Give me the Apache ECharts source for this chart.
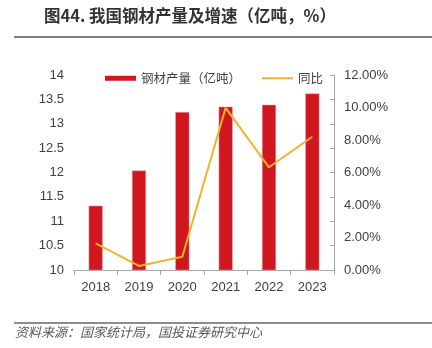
<!DOCTYPE html>
<html>
<head>
<meta charset="utf-8">
<script src="https://cdn.jsdelivr.net/npm/echarts@6/dist/echarts.min.js"></script>
<style>
  html, body { margin: 0; padding: 0; background: #fff; }
  #chart { width: 432px; height: 348px; }
</style>
</head>
<body>
<div id="chart"></div>
<script>
// Steel products output (100 million tonnes) and year-on-year growth (%)
const years = ['2018', '2019', '2020', '2021', '2022', '2023'];
const output = [11.32, 12.04, 13.24, 13.35, 13.39, 13.62];
const growth = [1.64, 0.25, 0.82, 9.98, 6.32, 8.2];
const seriesNames = ['钢材产量（亿吨）', '同比'];
const titleText = '图44. 我国钢材产量及增速（亿吨，%）';
const sourceText = '资料来源：国家统计局，国投证券研究中心';

const cjk = '"Noto Sans CJK SC", "Noto Sans", sans-serif';
const latin = 'Arial, "Liberation Sans", sans-serif';
const labelColor = '#404040';
const axisGray = '#a6a6a6';
const barColor = '#d0161e';
const lineColor = '#efb42c';

const chart = echarts.init(document.getElementById('chart'), null, { renderer: 'canvas' });

chart.setOption({
  animation: false,
  backgroundColor: '#fff',
  textStyle: { fontFamily: cjk },
  grid: { left: 74, right: 98, top: 75, bottom: 78 },
  legend: {
    left: 105,
    top: 72,
    padding: 0,
    itemWidth: 31,
    itemHeight: 5,
    itemGap: 21,
    textStyle: { color: labelColor, fontSize: 12.5, fontFamily: cjk },
    data: [
      { name: seriesNames[0], icon: 'rect', itemStyle: { color: barColor, borderWidth: 0 } },
      { name: seriesNames[1], icon: 'path://M0,0 L31,0 L31,2 L0,2 Z', itemStyle: { color: lineColor, borderWidth: 0 } }
    ]
  },
  xAxis: {
    type: 'category',
    data: years,
    axisLine: { lineStyle: { color: axisGray } },
    axisTick: { show: true, length: 5, lineStyle: { color: axisGray } },
    axisLabel: { color: labelColor, fontSize: 13, margin: 11, fontFamily: latin }
  },
  yAxis: [
    {
      type: 'value',
      min: 10, max: 14, interval: 0.5,
      position: 'left',
      axisLine: { show: false },
      axisTick: { show: false },
      splitLine: { show: false },
      axisLabel: { color: labelColor, fontSize: 13, margin: 10, fontFamily: latin }
    },
    {
      // right-hand growth axis: line and tick marks
      type: 'value',
      min: 0, max: 12, interval: 1.5,
      position: 'right',
      axisLine: { show: true, lineStyle: { color: axisGray } },
      axisTick: { show: true, inside: true, length: 4, lineStyle: { color: axisGray } },
      splitLine: { show: false },
      axisLabel: { show: false }
    },
    {
      // right-hand growth axis: percentage labels
      type: 'value',
      min: 0, max: 12, interval: 2,
      position: 'right',
      axisLine: { show: false },
      axisTick: { show: false },
      splitLine: { show: false },
      axisLabel: {
        color: labelColor, fontSize: 13, margin: 10,
        fontFamily: latin,
        formatter: v => v.toFixed(2) + '%'
      }
    }
  ],
  series: [
    {
      name: seriesNames[0],
      type: 'bar',
      data: output,
      yAxisIndex: 0,
      barWidth: 14,
      itemStyle: { color: barColor, borderColor: '#eba1a4', borderWidth: 0.5 }
    },
    {
      name: seriesNames[1],
      type: 'line',
      data: growth,
      yAxisIndex: 2,
      symbol: 'none',
      lineStyle: { color: lineColor, width: 2 },
      itemStyle: { color: lineColor }
    }
  ],
  graphic: [
    {
      type: 'text', left: 44, top: 7,
      style: { text: titleText, fill: '#333', font: '600 16.5px ' + cjk }
    },
    {
      type: 'rect', left: 14, top: 36,
      shape: { width: 418, height: 2 },
      style: { fill: '#7f7f7f' }
    },
    {
      type: 'rect', left: 14, top: 322,
      shape: { width: 418, height: 2 },
      style: { fill: '#8c8c8c' }
    },
    {
      type: 'text', left: 15, top: 326,
      style: { text: sourceText, fill: '#595959', font: 'italic 13px ' + cjk }
    }
  ]
});
</script>
</body>
</html>
